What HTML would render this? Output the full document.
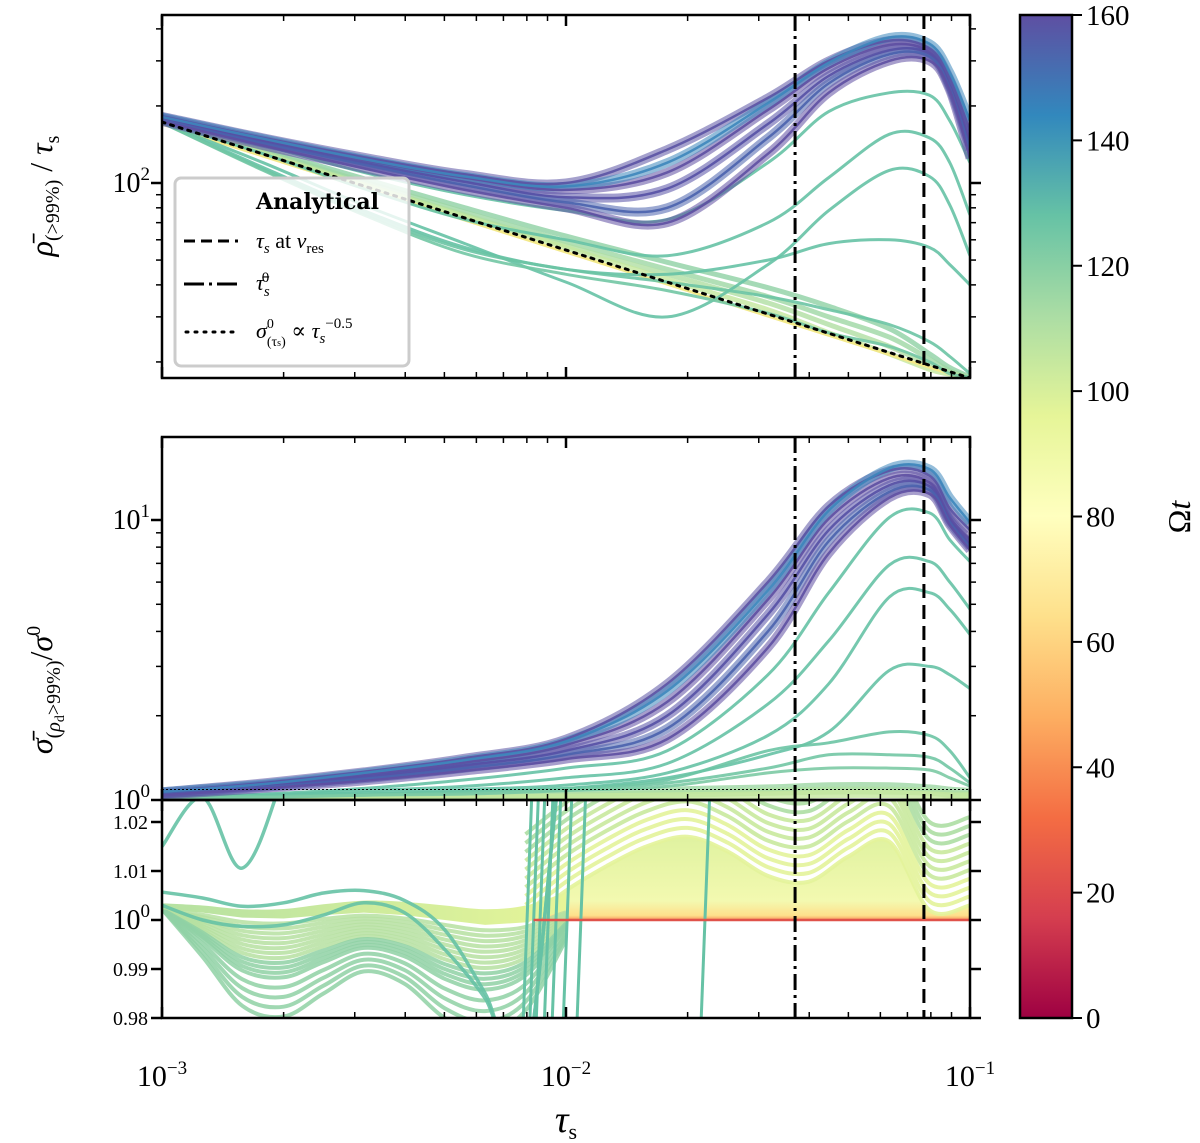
<!DOCTYPE html>
<html><head><meta charset="utf-8">
<style>
html,body{margin:0;padding:0;background:#fff;}
svg{display:block;font-family:"Liberation Serif","DejaVu Serif",serif;}
</style></head>
<body>
<svg id="chart" width="1200" height="1143" viewBox="0 0 1200 1143" xmlns="http://www.w3.org/2000/svg">
<defs>
<clipPath id="clipTop"><rect x="162" y="15" width="808" height="363"/></clipPath>
<clipPath id="clipMid"><rect x="162" y="437" width="808" height="363"/></clipPath>
<clipPath id="clipBot"><rect x="162" y="800" width="808" height="218"/></clipPath>
<linearGradient id="cbGrad" x1="0" y1="0" x2="0" y2="1">
<stop offset="0" stop-color="#5e4fa2"/><stop offset="0.1" stop-color="#3288bd"/><stop offset="0.2" stop-color="#66c2a5"/><stop offset="0.3" stop-color="#abdda4"/><stop offset="0.4" stop-color="#e6f598"/><stop offset="0.5" stop-color="#ffffbf"/><stop offset="0.6" stop-color="#fee08b"/><stop offset="0.7" stop-color="#fdae61"/><stop offset="0.8" stop-color="#f46d43"/><stop offset="0.9" stop-color="#d53e4f"/><stop offset="1" stop-color="#9e0142"/>
</linearGradient>
<linearGradient id="yelGrad" x1="0" y1="0" x2="0" y2="1">
<stop offset="0" stop-color="#dff2a0"/><stop offset="0.75" stop-color="#f3f9b0"/><stop offset="0.92" stop-color="#fee08b"/><stop offset="1" stop-color="#f46d43"/>
</linearGradient>
<linearGradient id="leftBand" x1="0" y1="0" x2="1" y2="0">
<stop offset="0" stop-color="#b5e1a2"/><stop offset="1" stop-color="#e6f598"/>
</linearGradient>
</defs>
<g id="plot"></g>
<g id="frames"></g>
</svg>
<script>
// ---------- data ----------
const tauGrid = [0.001,0.00178,0.00316,0.00562,0.01,0.0178,0.0316,0.0447,0.0631,0.0794,0.0891,0.1];
const topPurple = [
 [182,150,126,108,100,135,215,300,360,335,255,160],
 [180,147,123,105,94,110,193,281,346,325,241,147],
 [178,145,120,101,88,95,170,262,330,320,240,140],
 [176,143,118,98,84,80,150,245,318,312,235,135],
 [174,140,114,94,80,70,130,225,300,300,230,125],
 [181,149,124,106,97,120,205,295,370,350,270,175]
];
const topTeal = [
 [175,140,110,90,78,72,120,190,225,220,175,120],
 [172,130,95,72,60,52,70,105,155,150,120,75],
 [172,120,82,58,41,30,48,78,112,106,82,52],
 [172,115,78,56,46,44,50,58,60,56,48,40],
 [172,113,76,55,46,41,36,32,28,24,21,18],
 [172,112,75,53,44,38,31,26,23,20,18,17.5]
];
const topGreen = [
 [175,135,104,80,62,49,39,33,27,21.5,19,17.5],
 [174,133,101,77,59,46,36,30,25,20.5,18.5,17.4],
 [173,131,99,75,57,44,34,28,23,19.5,18.2,17.3],
 [173,130,98,74,56,42,32,26,21.5,18.7,17.9,17.3]
];
const analyticTau = [0.001,0.1];
const analyticRho = [173,17.3];
const midPurple = [
 [1.07,1.15,1.26,1.41,1.65,2.6,6.0,11.2,15.0,14.4,11,9.2],
 [1.06,1.13,1.23,1.36,1.57,2.24,5.2,10.1,14.1,13.6,10.2,8.5],
 [1.05,1.12,1.21,1.33,1.50,2.0,4.6,9.2,13.3,13.2,10,8.2],
 [1.05,1.11,1.19,1.30,1.45,1.8,4.0,8.4,12.6,12.8,9.8,8.0],
 [1.04,1.10,1.17,1.27,1.40,1.65,3.5,7.6,12.0,12.4,9.6,7.8],
 [1.07,1.14,1.25,1.39,1.62,2.45,5.6,10.8,15.3,15.2,12,9.8]
];
const midTeal = [
 [1.02,1.05,1.10,1.18,1.3,1.5,2.8,5.5,10.2,10.6,8.5,7.1],
 [1.02,1.04,1.08,1.12,1.2,1.35,2.2,3.7,6.9,7.1,6,4.8],
 [1.02,1.04,1.06,1.09,1.13,1.25,1.7,2.6,5.3,5.5,4.8,3.9],
 [1.02,1.03,1.05,1.07,1.1,1.2,1.45,1.75,2.9,3.0,2.8,2.5],
 [1.02,1.03,1.05,1.07,1.1,1.18,1.5,1.6,1.75,1.7,1.5,1.2],
 [1.02,1.03,1.04,1.06,1.09,1.15,1.3,1.45,1.45,1.42,1.3,1.15],
 [1.01,1.02,1.04,1.05,1.08,1.12,1.25,1.3,1.3,1.28,1.2,1.12]
];
const midGreen = [
 [1.01,1.01,1.02,1.03,1.05,1.08,1.1,1.12,1.12,1.1,1.08,1.07],
 [1.005,1.01,1.015,1.02,1.03,1.05,1.07,1.08,1.08,1.07,1.05,1.04],
 [1.0,1.005,1.01,1.01,1.02,1.03,1.04,1.05,1.05,1.04,1.03,1.03]
];
const midAnalytic = 1.09;
const botTau = [0.001,0.00126,0.00158,0.002,0.00251,0.00316,0.00398,0.00501,0.00631,0.00794,0.01,0.0126,0.0158,0.02,0.0251,0.0316,0.0398,0.0501,0.0631,0.0794,0.1];
const botTeal = [
 [1.015,1.025,1.0106,1.03,1.06,1.06,1.06,1.06,1.06,1.06,1.06,1.06,1.06,1.06,1.06,1.06,1.06,1.06,1.06,1.06,1.06],
 [1.0057,1.0045,1.0028,1.0035,1.0055,1.006,1.004,0.998,0.985,0.97,1.04,1.06,1.06,1.06,1.06,1.06,1.06,1.06,1.06,1.06,1.06],
 [1.003,1.0,0.9987,0.999,1.001,1.0035,1.0015,0.994,0.984,0.97,1.04,1.06,1.06,1.06,1.06,1.06,1.06,1.06,1.06,1.06,1.06]
];
const lowBase = [1.0022,1.0015,1.0005,1.0003,1.001,1.0015,1.001,1.0,0.999,0.9995,1.002];
const lowShape = [0,0.45,0.9,1.0,0.8,0.6,0.7,1.0,1.1,0.9,0.3];
const lowDepth = [0.001,0.002,0.003,0.004,0.005,0.006,0.007,0.008,0.009,0.010,0.011,0.012,0.014,0.016,0.018,0.02];
const waveBase = [0.9995,1.006,1.011,1.015,1.017,1.014,1.009,1.0078,1.013,1.016,1.002,1.003];
const waveTauStart = 9;
const waveOffsets = [0,0.0018,0.0036,0.0054,0.0072,0.009,0.0108,0.0126,0.0144,0.0162,0.018];
const steepTau = [0.0078,0.0081,0.0084,0.0088,0.0092,0.0098,0.0106,0.0215];
const resLineTau = [0.0369,0.0769];
const cbTicks = [0,20,40,60,80,100,120,140,160];

// ---------- scales ----------
const X0=162, X1=970;
const xS = t => X0 + (X1-X0)/2*(Math.log10(t)+3);
const yT = v => 183 - 256*(Math.log10(v)-2);
const yM = v => 800 - 280*Math.log10(v);
const yB = v => 920 - 4900*(v-1);
const NS='http://www.w3.org/2000/svg';
const plot=document.getElementById('plot');
const frames=document.getElementById('frames');
function mk(tag,attrs,parent){const e=document.createElementNS(NS,tag);for(const k in attrs)e.setAttribute(k,attrs[k]);(parent||plot).appendChild(e);return e;}
function smooth(pts){
 let d='M'+pts[0][0].toFixed(1)+','+pts[0][1].toFixed(1);
 for(let i=0;i<pts.length-1;i++){
  const p0=pts[Math.max(0,i-1)],p1=pts[i],p2=pts[i+1],p3=pts[Math.min(pts.length-1,i+2)];
  const c1=[p1[0]+(p2[0]-p0[0])/6,p1[1]+(p2[1]-p0[1])/6];
  const c2=[p2[0]-(p3[0]-p1[0])/6,p2[1]-(p3[1]-p1[1])/6];
  d+=' C'+c1[0].toFixed(1)+','+c1[1].toFixed(1)+' '+c2[0].toFixed(1)+','+c2[1].toFixed(1)+' '+p2[0].toFixed(1)+','+p2[1].toFixed(1);
 }
 return d;
}
function curve(g,taus,vals,ys,color,w,name,op){
 const pts=vals.map((v,i)=>[xS(taus[i]),ys(v)]);
 const p=mk('path',{d:smooth(pts),fill:'none',stroke:color,'stroke-width':w,'stroke-opacity':op||0.9,'stroke-linejoin':'round'},g);
 
 
 return p;
}
const purpleCols=['#5b53a4','#5e4fa2','#5550a5','#4a62ad','#5e4fa2','#3d86bb'];
const tealCols=['#66c2a5','#66c2a5','#66c2a5','#66c2a5','#6cc4a4','#72c7a4','#7ccaa4'];
const greenCols=['#8fd1a4','#9ed7a4','#b0dfa2','#c4e79e'];

// ---------- top panel ----------
const gT=mk('g',{'clip-path':'url(#clipTop)'});


topGreen.forEach((s,i)=>curve(gT,tauGrid,s,yT,greenCols[i],5,'top-green-band-'+i,0.8));
mk('line',{x1:xS(analyticTau[0]),y1:yT(analyticRho[0])+2,x2:xS(analyticTau[1]),y2:yT(analyticRho[1])+2,stroke:'#f3e98a','stroke-width':3},gT);
topTeal.forEach((s,i)=>curve(gT,tauGrid,s,yT,tealCols[i],3,'top-teal-curve-'+i));
topPurple.forEach((s,i)=>curve(gT,tauGrid,s,yT,purpleCols[i],9,'top-purple-band-'+i,0.55));
topPurple.forEach((s,i)=>curve(gT,tauGrid,s,yT,purpleCols[i],2.5,'top-purple-curve-'+i));
const dl=mk('line',{x1:xS(analyticTau[0]),y1:yT(analyticRho[0]),x2:xS(analyticTau[1]),y2:yT(analyticRho[1]),stroke:'#000','stroke-width':3,'stroke-dasharray':'3,6','stroke-linecap':'round'},gT);



// ---------- middle panel ----------
const gM=mk('g',{'clip-path':'url(#clipMid)'});


midGreen.forEach((s,i)=>curve(gM,tauGrid,s,yM,greenCols[i+1],8,'mid-green-band-'+i,0.8));
midTeal.forEach((s,i)=>curve(gM,tauGrid,s,yM,tealCols[i],3,'mid-teal-curve-'+i));
midPurple.forEach((s,i)=>curve(gM,tauGrid,s,yM,purpleCols[i],9,'mid-purple-band-'+i,0.55));
midPurple.forEach((s,i)=>curve(gM,tauGrid,s,yM,purpleCols[i],2.5,'mid-purple-curve-'+i));
const ma=mk('line',{x1:X0,y1:yM(midAnalytic),x2:X1,y2:yM(midAnalytic),stroke:'#000','stroke-width':1,'stroke-dasharray':'2,2'},gM);



// ---------- bottom panel ----------
const gB=mk('g',{'clip-path':'url(#clipBot)'});


{
 const wt=botTau.slice(waveTauStart);
 const pts=waveBase.map((v,i)=>[xS(wt[i]),yB(v)]);
 let d=smooth(pts)+' L'+xS(wt[wt.length-1])+','+yB(1)+' L'+xS(wt[0])+','+yB(1)+' Z';
 const a=mk('path',{d:d,fill:'url(#yelGrad)'},gB);
 
 
}
lowDepth.forEach((dep,j)=>{
 const vals=lowBase.map((b,i)=>b-dep*lowShape[i]);
 const t=Math.min(1,j/lowDepth.length);
 curve(gB,botTau.slice(0,lowBase.length),vals,yB,t<0.5?'#b6e1a1':'#8fd1a4',4,'low-family-line-'+j,0.85);
});
{
 const up=lowBase.map((b,i)=>[xS(botTau[i]),yB(b+0.0012+0.00025*i)]);
 const lo=lowBase.map((b,i)=>[xS(botTau[i]),yB(b)]).reverse();
 const d=smooth(up)+' L'+lo.map(p=>p[0].toFixed(1)+','+p[1].toFixed(1)).join(' L')+' Z';
 const a=mk('path',{d:d,fill:'url(#leftBand)'},gB);
 
 
}
waveOffsets.forEach((off,j)=>{
 const vals=waveBase.map(v=>v+off);
 const col=j<4?'#e3f39a':(j<8?'#c9e99d':'#addea3');
 curve(gB,botTau.slice(waveTauStart),vals,yB,col,4,'wave-family-line-'+j,0.9);
});
steepTau.forEach((t,i)=>{
 const l=mk('line',{x1:xS(t),y1:yB(0.975),x2:xS(t*1.06),y2:yB(1.03),stroke:'#66c2a5','stroke-width':3},gB);
 
 
});
botTeal.forEach((s,i)=>curve(gB,botTau,s,yB,'#66c2a5',3.5,'bottom-teal-curve-'+i));
const rl=mk('line',{x1:xS(botTau[waveTauStart])+8,y1:yB(1),x2:X1,y2:yB(1),stroke:'#e0524a','stroke-width':2.5},gB);



// ---------- vertical reference lines ----------
[[15,378],[437,800],[800,1018]].forEach((r,k)=>{
 const a=mk('line',{x1:xS(resLineTau[0]),y1:r[0],x2:xS(resLineTau[0]),y2:r[1],stroke:'#000','stroke-width':3,'stroke-dasharray':'16,5,3,5'});
 
 
 const b=mk('line',{x1:xS(resLineTau[1]),y1:r[0],x2:xS(resLineTau[1]),y2:r[1],stroke:'#000','stroke-width':3,'stroke-dasharray':'14,7'});
 
 
});

// ---------- axes frames & ticks ----------
function frame(y0,y1,name){
 const r=mk('rect',{x:X0,y:y0,width:X1-X0,height:y1-y0,fill:'none',stroke:'#000','stroke-width':2.5},frames);
 
 
}
frame(15,378,'top-axes-frame');frame(437,800,'middle-axes-frame');frame(800,1018,'bottom-axes-frame');
function xticks(y0,y1){
 for(let dec=-3;dec<-1+0.01;dec++){
  for(let m=1;m<10;m++){
   const t=m*Math.pow(10,dec); if(t>0.1+1e-9)break;
   const x=xS(t), L=(m===1)?11:6;
   mk('line',{x1:x,y1:y0,x2:x,y2:y0+L,stroke:'#000','stroke-width':m===1?2.5:1.5},frames);
   mk('line',{x1:x,y1:y1,x2:x,y2:y1-L,stroke:'#000','stroke-width':m===1?2.5:1.5},frames);
  }
 }
}
xticks(15,378);xticks(437,800);xticks(800,1018);
function ytick(y,major){
 const L=major?11:6,w=major?2.5:1.5;
 mk('line',{x1:X0,y1:y,x2:X0-L,y2:y,stroke:'#000','stroke-width':w},frames);
 mk('line',{x1:X1,y1:y,x2:X1+L,y2:y,stroke:'#000','stroke-width':w},frames);
}
[20,30,40,50,60,70,80,90,200,300,400].forEach(v=>ytick(yT(v),false)); ytick(yT(100),true);
[2,3,4,5,6,7,8,9].forEach(v=>ytick(yM(v),false)); ytick(yM(10),true); ytick(yM(1),true);
[0.98,0.99,1.0,1.01,1.02].forEach(v=>ytick(yB(v),true));

function txt(x,y,s,size,anchor,name,extra){
 const t=mk('text',Object.assign({x:x,y:y,'font-size':size,'text-anchor':anchor||'middle',fill:'#000'},extra||{}),frames);
 t.innerHTML=s;
 
 
 return t;
}
const pw='<tspan dy="-12" font-size="19">';
txt(150,192,'10'+pw+'2</tspan>',28,'end','y-tick-top-100');
txt(150,529,'10'+pw+'1</tspan>',28,'end','y-tick-mid-10');
txt(150,809,'10'+pw+'0</tspan>',28,'end','y-tick-mid-1');
txt(150,929,'10'+pw+'0</tspan>',28,'end','y-tick-bot-1');
[[1.02,'1.02'],[1.01,'1.01'],[0.99,'0.99'],[0.98,'0.98']].forEach(a=>txt(148,yB(a[0])+7,a[1],20,'end','y-tick-bot-'+a[1]));
[[0.001,'-3'],[0.01,'-2'],[0.1,'-1']].forEach(a=>txt(xS(a[0]),1086,'10'+pw+'−'+a[1].slice(1)+'</tspan>',30,'middle','x-tick-'+a[1]));
txt(566,1132,'<tspan font-style="italic">τ</tspan><tspan font-size="22" dy="7">s</tspan>',38,'middle','x-axis-title');
txt(0,0,'<tspan font-style="italic">ρ̄</tspan><tspan font-size="20" dy="7">(&gt;99%)</tspan><tspan dy="-7"> / </tspan><tspan font-style="italic">τ</tspan><tspan font-size="20" dy="7">s</tspan>',32,'middle','y-axis-title-top',{transform:'translate(52,196) rotate(-90)'});
txt(0,0,'<tspan font-style="italic">σ̄</tspan><tspan font-size="20" dy="8">(</tspan><tspan font-size="20" font-style="italic">ρ</tspan><tspan font-size="14" dy="4">d</tspan><tspan font-size="20" dy="-4">&gt;99%)</tspan><tspan dy="-8">/</tspan><tspan font-style="italic">σ</tspan><tspan font-size="20" dy="-12">0</tspan>',32,'middle','y-axis-title-middle',{transform:'translate(52,690) rotate(-90)'});

// ---------- legend ----------
const lg=mk('g',{},frames);


mk('rect',{x:175,y:178,width:234,height:188,rx:6,fill:'#fff','fill-opacity':0.82,stroke:'#cccccc','stroke-width':3},lg);
const lt=(y,s,n,extra)=>{const t=txt(256,y,s,22,'start',n,extra);lg.appendChild(t);return t;};
lt(209,'Analytical','legend-title',{'font-weight':'bold','font-family':'DejaVu Serif, serif','font-size':'22'});
const l1=mk('line',{x1:184,y1:241,x2:238,y2:241,stroke:'#000','stroke-width':3,'stroke-dasharray':'11,6'},lg);

lt(248,'<tspan font-style="italic">τ</tspan><tspan font-size="15" font-style="italic" dy="5">s</tspan><tspan dy="-5"> at </tspan><tspan font-style="italic">ν</tspan><tspan font-size="15" dy="5">res</tspan>','legend-entry-res');
const l2=mk('line',{x1:184,y1:284,x2:238,y2:284,stroke:'#000','stroke-width':3,'stroke-dasharray':'20,5,3,5'},lg);

lt(290,'<tspan font-style="italic">τ̄</tspan><tspan font-size="15" font-style="italic" dy="6">s</tspan><tspan font-size="15" dx="-8" dy="-14">0</tspan>','legend-entry-tau0');
const l3=mk('line',{x1:186,y1:332,x2:238,y2:332,stroke:'#000','stroke-width':3,'stroke-dasharray':'2,7','stroke-linecap':'round'},lg);

lt(338,'<tspan font-style="italic">σ</tspan><tspan font-size="14" dy="-10">0</tspan><tspan font-size="14" dx="-7" dy="18">(τ</tspan><tspan font-size="10">s</tspan><tspan font-size="14">)</tspan><tspan dy="-8"> ∝ </tspan><tspan font-style="italic">τ</tspan><tspan font-size="15" font-style="italic" dy="5">s</tspan><tspan font-size="15" dy="-15">−0.5</tspan>','legend-entry-sigma');

// ---------- colorbar ----------
const cb=mk('rect',{x:1020,y:15,width:52,height:1003,fill:'url(#cbGrad)',stroke:'#000','stroke-width':2.5},frames);


cbTicks.forEach(v=>{
 const y=1018-v*(1003/160);
 mk('line',{x1:1072,y1:y,x2:1082,y2:y,stroke:'#000','stroke-width':2},frames);
 txt(1086,y+10,String(v),29,'start','colorbar-tick-'+v);
});
txt(0,0,'Ω<tspan font-style="italic">t</tspan>',32,'middle','colorbar-title',{transform:'translate(1190,517) rotate(-90)'});
</script>
</body></html>
